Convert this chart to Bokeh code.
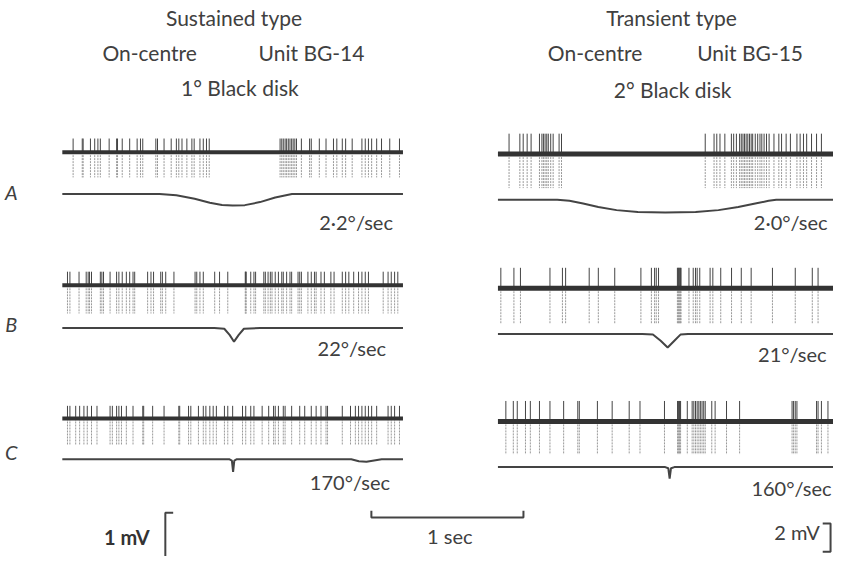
from bokeh.plotting import figure
from bokeh.models import Range1d
from bokeh.core.properties import value
from bokeh.embed import file_html
from bokeh.resources import INLINE

# ---------------- data (spike times in seconds from trace start) ----------------
spikes_left_A = [0.071, 0.131, 0.137, 0.185, 0.213, 0.234, 0.250, 0.308, 0.357, 0.363, 0.394, 0.443,
                 0.492, 0.514, 0.529, 0.615, 0.626, 0.669, 0.716, 0.750, 0.766, 0.787, 0.819, 0.852,
                 0.867, 0.905, 0.927, 0.948, 0.966, 1.432, 1.443, 1.453, 1.465, 1.475, 1.486, 1.497,
                 1.508, 1.518, 1.529, 1.540, 1.572, 1.626, 1.637, 1.690, 1.734, 1.783, 1.805, 1.841,
                 1.863, 1.906, 1.970, 1.992, 2.013, 2.034, 2.067, 2.099, 2.153, 2.217]
spikes_right_A = [0.073, 0.144, 0.166, 0.192, 0.218, 0.273, 0.289, 0.299, 0.310, 0.321, 0.331, 0.347,
                  0.363, 0.402, 0.418, 1.363, 1.421, 1.439, 1.460, 1.492, 1.535, 1.550, 1.568, 1.589,
                  1.600, 1.611, 1.621, 1.632, 1.643, 1.654, 1.665, 1.675, 1.692, 1.708, 1.723, 1.735,
                  1.750, 1.766, 1.783, 1.815, 1.847, 1.865, 1.895, 1.923, 1.966, 1.987, 2.009, 2.030,
                  2.062, 2.095, 2.127]
spikes_left_B = [0.034, 0.050, 0.110, 0.157, 0.170, 0.179, 0.192, 0.250, 0.260, 0.271, 0.314, 0.357,
                 0.372, 0.394, 0.421, 0.443, 0.465, 0.476, 0.561, 0.583, 0.600, 0.647, 0.658, 0.680,
                 0.734, 0.873, 0.884, 0.905, 0.927, 1.002, 1.034, 1.088, 1.203, 1.206, 1.209, 1.239,
                 1.260, 1.271, 1.325, 1.335, 1.353, 1.368, 1.379, 1.400, 1.421, 1.443, 1.453, 1.475,
                 1.497, 1.508, 1.550, 1.561, 1.572, 1.615, 1.637, 1.658, 1.669, 1.701, 1.723, 1.766,
                 1.787, 1.841, 1.863, 1.884, 1.916, 1.948, 1.970, 1.992, 2.013, 2.110, 2.142, 2.163,
                 2.185, 2.206]
spikes_right_B = [0.019, 0.105, 0.148, 0.342, 0.424, 0.445, 0.600, 0.660, 0.768, 0.940, 1.009, 1.030,
                  1.041, 1.056, 1.180, 1.184, 1.188, 1.192, 1.196, 1.200, 1.204, 1.256, 1.284, 1.299,
                  1.310, 1.327, 1.395, 1.413, 1.465, 1.536, 1.600, 1.665, 1.805, 1.955, 2.067, 2.105]
spikes_left_C = [0.034, 0.050, 0.088, 0.114, 0.142, 0.164, 0.192, 0.228, 0.314, 0.329, 0.357, 0.372,
                 0.389, 0.421, 0.465, 0.529, 0.535, 0.594, 0.669, 0.766, 0.772, 0.830, 0.845, 0.895,
                 0.927, 0.944, 0.970, 0.992, 1.013, 1.066, 1.088, 1.120, 1.185, 1.206, 1.239, 1.260,
                 1.314, 1.357, 1.389, 1.400, 1.421, 1.453, 1.465, 1.508, 1.561, 1.594, 1.637, 1.669,
                 1.701, 1.734, 1.744, 1.841, 1.895, 1.927, 1.948, 1.970, 1.992, 2.013, 2.034, 2.067,
                 2.142, 2.163, 2.185, 2.217]
spikes_right_C = [0.052, 0.101, 0.127, 0.181, 0.213, 0.273, 0.342, 0.432, 0.525, 0.535, 0.654, 0.751,
                  0.863, 0.934, 1.095, 1.181, 1.185, 1.189, 1.193, 1.197, 1.201, 1.245, 1.277, 1.288,
                  1.299, 1.310, 1.321, 1.331, 1.342, 1.353, 1.363, 1.406, 1.428, 1.503, 1.589, 1.934,
                  1.944, 1.955, 1.966, 2.095, 2.105, 2.127, 2.170]

# stimulus (disk position) traces: time (s) and normalized deflection (0 = rest, -1 = max)
stim_t_left_A = [0, 0.64, 0.75, 0.87, 0.97, 1.05, 1.12, 1.20, 1.30, 1.40, 1.51, 2.24]
stim_v_left_A = [0, 0, -0.12, -0.42, -0.75, -0.95, -1, -0.96, -0.70, -0.30, 0, 0]
stim_t_right_A = [0, 0.39, 0.47, 0.56, 0.66, 0.78, 0.92, 1.10, 1.30, 1.45, 1.58, 1.70, 1.78, 1.83, 2.21]
stim_v_right_A = [0, 0, -0.08, -0.30, -0.58, -0.82, -0.96, -1, -0.96, -0.82, -0.58, -0.28, -0.08, 0, 0]
stim_t_left_B = [0, 1.00, 1.065, 1.10, 1.129, 1.16, 1.194, 1.30, 2.24]
stim_v_left_B = [0, 0, -0.05, -0.5, -1, -0.5, -0.05, 0, 0]
stim_t_right_B = [0, 0.95, 1.019, 1.07, 1.116, 1.16, 1.20, 1.25, 2.21]
stim_v_right_B = [0, 0, -0.05, -0.5, -1, -0.5, -0.05, 0, 0]
stim_t_left_C = [0, 1.10, 1.115, 1.123, 1.131, 1.145, 1.90, 1.95, 2.00, 2.05, 2.10, 2.24]
stim_v_left_C = [0, 0, -0.1, -1, -0.1, 0, 0, -0.15, -0.2, -0.1, 0, 0]
stim_t_right_C = [0, 1.10, 1.12, 1.129, 1.138, 1.16, 2.21]
stim_v_right_C = [0, 0, -0.1, -1, -0.1, 0, 0]

trace_duration = {"left": 2.24, "right": 2.21}
row_labels = ["A", "B", "C"]
speed_left = ["2\u00b72\u00b0/sec", "22\u00b0/sec", "170\u00b0/sec"]
speed_right = ["2\u00b70\u00b0/sec", "21\u00b0/sec", "160\u00b0/sec"]
title_left = ["Sustained type", "On-centre", "Unit BG-14", "1\u00b0 Black disk"]
title_right = ["Transient type", "On-centre", "Unit BG-15", "2\u00b0 Black disk"]
scale_time_s = 1.0
scale_labels = ["1 mV", "1 sec", "2 mV"]

# ---------------- layout ----------------
W, H = 849, 572
PX_PER_S = 155.0
FONT = value("Lato")
INK = "#404040"

p = figure(width=833, height=556, x_range=Range1d(0, W), y_range=Range1d(H, 0),
           output_backend="svg", toolbar_location=None, min_border=0)
p.axis.visible = False
p.grid.visible = False
p.outline_line_color = None
p.background_fill_color = "white"
p.border_fill_color = "white"

traces = [
    # side, spikes, stim t, stim v, x0, base, up, down, stim_y, depth, base width
    ("left", spikes_left_A, stim_t_left_A, stim_v_left_A, 63, 156, 142, 182, 199, 12, 4),
    ("right", spikes_right_A, stim_t_right_A, stim_v_right_A, 507, 158, 137, 193, 205, 13, 5),
    ("left", spikes_left_B, stim_t_left_B, stim_v_left_B, 63, 293, 279, 322, 337, 14, 4),
    ("right", spikes_right_B, stim_t_right_B, stim_v_right_B, 507, 296, 275, 332, 343, 14, 5),
    ("left", spikes_left_C, stim_t_left_C, stim_v_left_C, 63, 430, 417, 457, 472, 13, 4),
    ("right", spikes_right_C, stim_t_right_C, stim_v_right_C, 507, 433, 412, 467, 480, 12, 5),
]

for side, spk, st, sv, x0, base, up, down, sy, depth, bw in traces:
    xs = [x0 + t * PX_PER_S for t in spk]
    # downward (lighter, broken) part of spikes
    p.segment(x0=xs, y0=[base] * len(xs), x1=xs, y1=[down] * len(xs),
              line_color="#999999", line_width=1, line_dash="2 1")
    # upward (dark) part of spikes
    p.segment(x0=xs, y0=[base] * len(xs), x1=xs, y1=[up] * len(xs),
              line_color="#444444", line_width=1)
    # baseline
    x_end = x0 + trace_duration[side] * PX_PER_S
    p.line([x0, x_end], [base, base], line_color="#333333", line_width=bw)
    # stimulus trace
    p.line([x0 + t * PX_PER_S for t in st], [sy - v * depth for v in sv],
           line_color="#444444", line_width=2)

# titles
p.text(x=[238, 152, 317, 244], y=[17, 54, 54, 89], text=title_left,
       text_font=FONT, text_font_size="21px", text_color=INK,
       text_align="center", text_baseline="middle")
p.text(x=[684, 606, 764, 685], y=[17, 54, 54, 92], text=title_right,
       text_font=FONT, text_font_size="21px", text_color=INK,
       text_align="center", text_baseline="middle")

# row labels
p.text(x=[11, 11, 11], y=[197, 333, 465], text=row_labels,
       text_font=FONT, text_font_size="20px", text_font_style="italic", text_color=INK,
       text_align="center", text_baseline="middle")

# speed labels
p.text(x=[400, 393, 397], y=[228, 358, 495], text=speed_left,
       text_font=FONT, text_font_size="20px", text_color=INK,
       text_align="right", text_baseline="middle")
p.text(x=[843, 842, 847], y=[228, 364, 502], text=speed_right,
       text_font=FONT, text_font_size="20px", text_color=INK,
       text_align="right", text_baseline="middle")

# 1 sec scale bar
bx0 = 378
bx1 = bx0 + scale_time_s * PX_PER_S
p.line([bx0, bx0, bx1, bx1], [525, 532, 532, 525], line_color="#444444", line_width=2)

# voltage brackets
p.line([176, 168, 168], [527, 527, 575], line_color="#444444", line_width=2)
p.line([838, 846, 846, 838], [538, 538, 567, 567], line_color="#444444", line_width=2)

p.text(x=[152], y=[552], text=scale_labels[:1],
       text_font=FONT, text_font_size="20px", text_font_style="bold", text_color="#333333",
       text_align="right", text_baseline="middle")
p.text(x=[458, 835], y=[551, 547], text=scale_labels[1:],
       text_font=FONT, text_font_size="20px", text_color=INK,
       text_align=["center", "right"], text_baseline="middle")

open("out.html", "w").write(file_html(p, INLINE))
